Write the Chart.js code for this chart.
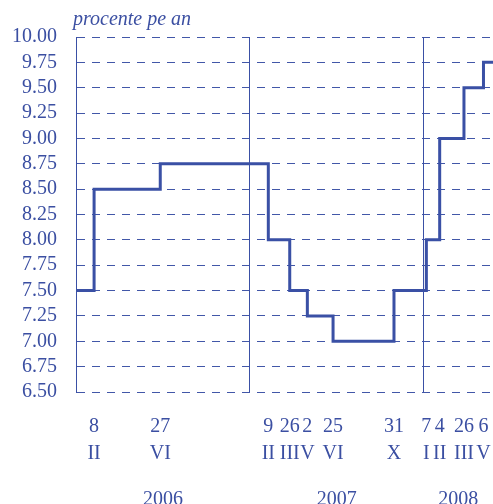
<!DOCTYPE html>
<html>
<head>
<meta charset="utf-8">
<script src="https://cdn.jsdelivr.net/npm/chart.js@4/dist/chart.umd.min.js"></script>
<style>
  html, body { margin: 0; padding: 0; background: #ffffff; }
  #wrap { width: 493px; height: 504px; }
</style>
</head>
<body>
<div id="wrap"><canvas id="c" width="493" height="504"></canvas></div>
<script>
// ---- data ----
const unitLabel = 'procente pe an';
const startDate = '2006-01-01';
const endDate = '2008-05-26';
const startRate = 7.50;
const changeDates = ['2006-02-08','2006-06-27','2007-02-09','2007-03-26','2007-05-02','2007-06-25','2007-10-31','2008-01-07','2008-02-04','2008-03-26','2008-05-06'];
const rates = [8.50, 8.75, 8.00, 7.50, 7.25, 7.00, 7.50, 8.00, 9.00, 9.50, 9.75];
const dayLabels = ['8','27','9','26','2','25','31','7','4','26','6'];
const monthLabels = ['II','VI','II','III','V','VI','X','I','II','III','V'];
const years = ['2006','2007','2008'];
const yearStarts = ['2007-01-01','2008-01-01'];
const yMin = 6.50, yMax = 10.00, yStep = 0.25;

// ---- build ----
const DAY = 86400000;
const toDay = d => (Date.parse(d) - Date.parse(startDate)) / DAY;
const endDay = toDay(endDate);
const changeDays = changeDates.map(toDay);
const boundaryDays = yearStarts.map(toDay);
const points = [{x: 0, y: startRate}]
  .concat(changeDays.map((d, i) => ({x: d, y: rates[i]})))
  .concat([{x: endDay, y: rates[rates.length - 1]}]);
const yearEdges = [0].concat(boundaryDays, [endDay]);
const yearTickVals = [];
for (let i = 0; i < years.length; i++) {
  yearTickVals.push((yearEdges[i] + yearEdges[i + 1]) / 2);
  if (i < boundaryDays.length) yearTickVals.push(boundaryDays[i]);
}

const BLUE = '#3a50a5';
const GRID = '#4257a8';
const TEXT = '#3b4fa2';
const FONT = '"Liberation Serif", "Times New Roman", serif';

const unitPlugin = {
  id: 'unitLabel',
  afterDraw(chart) {
    const ctx = chart.ctx;
    ctx.save();
    ctx.font = 'italic 20px ' + FONT;
    ctx.fillStyle = TEXT;
    ctx.textBaseline = 'alphabetic';
    ctx.textAlign = 'left';
    ctx.fillText(unitLabel, chart.chartArea.left - 3, 25);
    ctx.restore();
  }
};

new Chart(document.getElementById('c'), {
  type: 'line',
  data: {
    datasets: [{
      data: points,
      stepped: true,
      borderColor: BLUE,
      borderWidth: 3,
      pointRadius: 0,
      fill: false
    }]
  },
  options: {
    responsive: false,
    animation: false,
    layout: { padding: { top: 37, left: 12, right: 0, bottom: 0 } },
    plugins: { legend: { display: false }, tooltip: { enabled: false }, title: { display: false } },
    scales: {
      y: {
        min: yMin, max: yMax,
        afterFit: s => { s.width = 64; },
        ticks: {
          autoSkip: false,
          stepSize: yStep,
          padding: 19,
          color: TEXT,
          font: { family: FONT, size: 20 },
          callback: v => Number(v).toFixed(2)
        },
        grid: { color: GRID, lineWidth: 1, drawTicks: false },
        border: { display: true, color: BLUE, width: 1, dash: [8, 7] }
      },
      x: {
        type: 'linear',
        min: 0, max: endDay,
        afterBuildTicks: s => { s.ticks = changeDays.map(v => ({ value: v })); },
        afterFit: s => { s.height = 74; s.paddingLeft = 0; s.paddingRight = 0; },
        ticks: {
          autoSkip: false, maxRotation: 0, minRotation: 0,
          padding: 21,
          color: TEXT,
          font: { family: FONT, size: 20, lineHeight: 1.35 },
          callback: (v, i) => [dayLabels[i], monthLabels[i]]
        },
        grid: { display: false, drawTicks: false },
        border: { display: false }
      },
      x2: {
        type: 'linear',
        axis: 'x',
        position: 'bottom',
        min: 0, max: endDay,
        afterBuildTicks: s => { s.ticks = yearTickVals.map(v => ({ value: v })); },
        afterFit: s => { s.height = 38; s.paddingLeft = 0; s.paddingRight = 0; },
        ticks: {
          autoSkip: false, maxRotation: 0, minRotation: 0,
          padding: 24,
          color: TEXT,
          font: { family: FONT, size: 20, lineHeight: 1.0 },
          callback: (v, i) => (i % 2 === 0 ? years[i / 2] : '')
        },
        grid: {
          drawTicks: false,
          lineWidth: 1,
          color: c => (c.index % 2 === 1 ? BLUE : 'rgba(0,0,0,0)')
        },
        border: { display: false }
      }
    }
  },
  plugins: [unitPlugin]
});
</script>
</body>
</html>
